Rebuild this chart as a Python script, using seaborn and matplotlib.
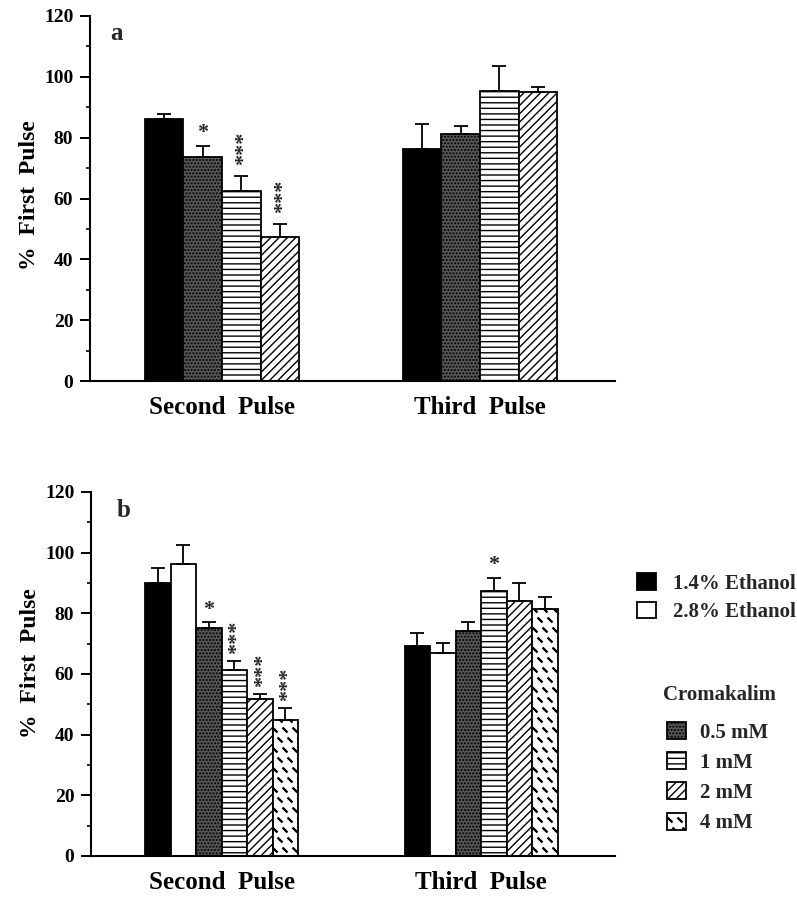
import numpy as np
import pandas as pd
import matplotlib
matplotlib.use("Agg")
import matplotlib.pyplot as plt
import seaborn as sns
from matplotlib import hatch as mhatch
from matplotlib.path import Path
from matplotlib.patches import Patch
from matplotlib.ticker import MultipleLocator

# ---------------- data ----------------
pulses = ["Second  Pulse", "Third  Pulse"]

treat_a = ["1.4% Ethanol", "0.5 mM", "1 mM", "2 mM"]
a_second_mean = [86.2, 73.7, 62.5, 47.4]
a_second_sem = [1.6, 3.6, 4.9, 4.2]
a_third_mean = [76.2, 81.2, 95.4, 95.0]
a_third_sem = [8.3, 2.8, 8.2, 1.6]
a_second_sig = ["", "*", "***", "***"]
a_third_sig = ["", "", "", ""]

treat_b = ["1.4% Ethanol", "2.8% Ethanol", "0.5 mM", "1 mM", "2 mM", "4 mM"]
b_second_mean = [90.0, 96.3, 75.3, 61.3, 51.6, 44.8]
b_second_sem = [5.1, 6.1, 1.7, 3.0, 1.8, 3.9]
b_third_mean = [69.3, 66.8, 74.2, 87.2, 84.1, 81.4]
b_third_sem = [4.1, 3.5, 2.8, 4.4, 5.9, 3.9]
b_second_sig = ["", "", "*", "***", "***", "***"]
b_third_sig = ["", "", "", "*", "", ""]

y_ticks = [0, 20, 40, 60, 80, 100, 120]
ethanol_labels = ["1.4% Ethanol", "2.8% Ethanol"]
cromakalim_labels = ["0.5 mM", "1 mM", "2 mM", "4 mM"]
y_label = "%  First  Pulse"

# ---------------- styles ----------------
face = {"1.4% Ethanol": "black", "2.8% Ethanol": "white", "0.5 mM": "#575757",
        "1 mM": "white", "2 mM": "white", "4 mM": "white"}
hatches = {"1.4% Ethanol": "", "2.8% Ethanol": "", "0.5 mM": ".....",
           "1 mM": "---", "2 mM": "////", "4 mM": "*"}


# custom dashed hatch (short "\" strokes) used for the 4 mM bars
class DashHatch(mhatch.Shapes):
    filled = True
    size = 1.0

    def __init__(self, hatch, density):
        self.num_rows = int(hatch.count("*") * density * 5 / 3)
        L, d = 0.2, 0.03
        self.shape_vertices = np.array([[-L - d, L - d], [L - d, -L - d],
                                        [L + d, -L + d], [-L + d, L + d],
                                        [-L - d, L - d]])
        self.shape_codes = np.array([Path.MOVETO, Path.LINETO, Path.LINETO,
                                     Path.LINETO, Path.CLOSEPOLY],
                                    dtype=Path.code_type)
        super().__init__(hatch, density)


mhatch._hatch_types = [t for t in mhatch._hatch_types if t is not mhatch.Stars] + [DashHatch]

sns.set_theme(style="ticks")
plt.rcParams["font.family"] = ["Liberation Serif", "DejaVu Serif"]
plt.rcParams["font.weight"] = "bold"
plt.rcParams["axes.labelweight"] = "bold"
plt.rcParams["hatch.linewidth"] = 1.0
plt.rcParams["hatch.color"] = "black"

fig = plt.figure(figsize=(7.97, 9.0), dpi=100)
ax_a = fig.add_axes([90 / 797, 1 - 381 / 900, 525 / 797, 365 / 900])
ax_b = fig.add_axes([91 / 797, 1 - 856 / 900, 524 / 797, 364 / 900])


def draw_panel(ax, treats, s_mean, s_sem, t_mean, t_sem, s_sig, t_sig,
               letter, letter_pos, width, xlim, star3_off, ylab_y):
    n = len(treats)
    df = pd.DataFrame({
        "pulse": [pulses[0]] * n + [pulses[1]] * n,
        "treatment": treats * 2,
        "mean": s_mean + t_mean,
        "sem": s_sem + t_sem,
        "sig": s_sig + t_sig,
    })
    sns.barplot(data=df, x="pulse", y="mean", hue="treatment", order=pulses,
                hue_order=treats, palette={t: face[t] for t in treats},
                width=width, errorbar=None, legend=False, saturation=1,
                edgecolor="black", linewidth=1.3, ax=ax)
    for t, cont in zip(treats, ax.containers):
        for pulse, bar in zip(pulses, cont):
            bar.set_hatch(hatches[t])
            bar.set_edgecolor("black")
            row = df[(df.pulse == pulse) & (df.treatment == t)].iloc[0]
            xc = bar.get_x() + bar.get_width() / 2
            top = bar.get_height()
            ax.errorbar([xc], [top], yerr=[[0], [row["sem"]]], fmt="none",
                        ecolor="black", elinewidth=1.3, capsize=4.7,
                        capthick=1.3, zorder=4)
            if row["sig"] == "*":
                ax.annotate("*", xy=(xc, top + row["sem"]), xytext=(0, 2),
                            textcoords="offset points", ha="center",
                            va="bottom", fontsize=16, fontweight="bold")
            elif row["sig"]:
                ax.annotate(row["sig"], xy=(xc, top + row["sem"]),
                            xytext=(2, star3_off), textcoords="offset points",
                            ha="center", va="bottom", rotation=90,
                            fontsize=16, fontweight="bold")

    ax.set_ylim(0, 120)
    ax.set_xlim(*xlim)
    ax.set_yticks(y_ticks)
    ax.yaxis.set_minor_locator(MultipleLocator(10))
    ax.tick_params(axis="y", which="major", length=7, width=1.4,
                   direction="out", pad=5, labelsize=14, color="black",
                   labelcolor="black")
    ax.tick_params(axis="y", which="minor", length=3, width=1.2, color="black")
    ax.tick_params(axis="x", length=0, pad=11, labelsize=18, labelcolor="black")
    for lab in ax.get_xticklabels() + ax.get_yticklabels():
        lab.set_fontweight("bold")
    for s in ["top", "right"]:
        ax.spines[s].set_visible(False)
    for s in ["left", "bottom"]:
        ax.spines[s].set_linewidth(1.5)
        ax.spines[s].set_color("black")
    ax.set_xlabel("")
    ax.set_ylabel(y_label, fontsize=17, fontweight="bold", color="black")
    ax.yaxis.set_label_coords(-0.095, ylab_y)
    ax.text(letter_pos[0], letter_pos[1], letter, transform=ax.transAxes,
            ha="center", va="center", fontsize=18, fontweight="bold")


draw_panel(ax_a, treat_a, a_second_mean, a_second_sem, a_third_mean,
           a_third_sem, a_second_sig, a_third_sig, "a", (0.05, 0.951), 0.6,
           (-0.512, 1.523), 8, 0.51)
draw_panel(ax_b, treat_b, b_second_mean, b_second_sem, b_third_mean,
           b_third_sem, b_second_sig, b_third_sig, "b", (0.063, 0.948), 0.59,
           (-0.503, 1.516), 5, 0.53)

# ---------------- legends ----------------
leg_prop = {"family": "Liberation Serif", "weight": "bold", "size": 15}
eth_handles = [Patch(facecolor=face[t], edgecolor="black", hatch=hatches[t],
                     linewidth=1.3) for t in ethanol_labels]
crom_handles = [Patch(facecolor=face[t], edgecolor="black", hatch=hatches[t],
                      linewidth=1.3) for t in cromakalim_labels]
leg1 = fig.legend(eth_handles, ethanol_labels, loc="upper left",
                  bbox_to_anchor=(637 / 797, 1 - 573 / 900), frameon=False,
                  borderpad=0, borderaxespad=0, handlelength=0.9,
                  handleheight=0.87, handletextpad=0.85, labelspacing=0.38,
                  prop=leg_prop)
leg2 = fig.legend(crom_handles, cromakalim_labels, loc="upper left",
                  bbox_to_anchor=(667 / 797, 1 - 722 / 900), frameon=False,
                  borderpad=0, borderaxespad=0, handlelength=0.9,
                  handleheight=0.87, handletextpad=0.67, labelspacing=0.46,
                  prop=leg_prop)
fig.text(720 / 797, 1 - 695 / 900, "Cromakalim", ha="center", va="center",
         fontsize=15, fontweight="bold", family="Liberation Serif")

fig.savefig("out.png", dpi=100)
